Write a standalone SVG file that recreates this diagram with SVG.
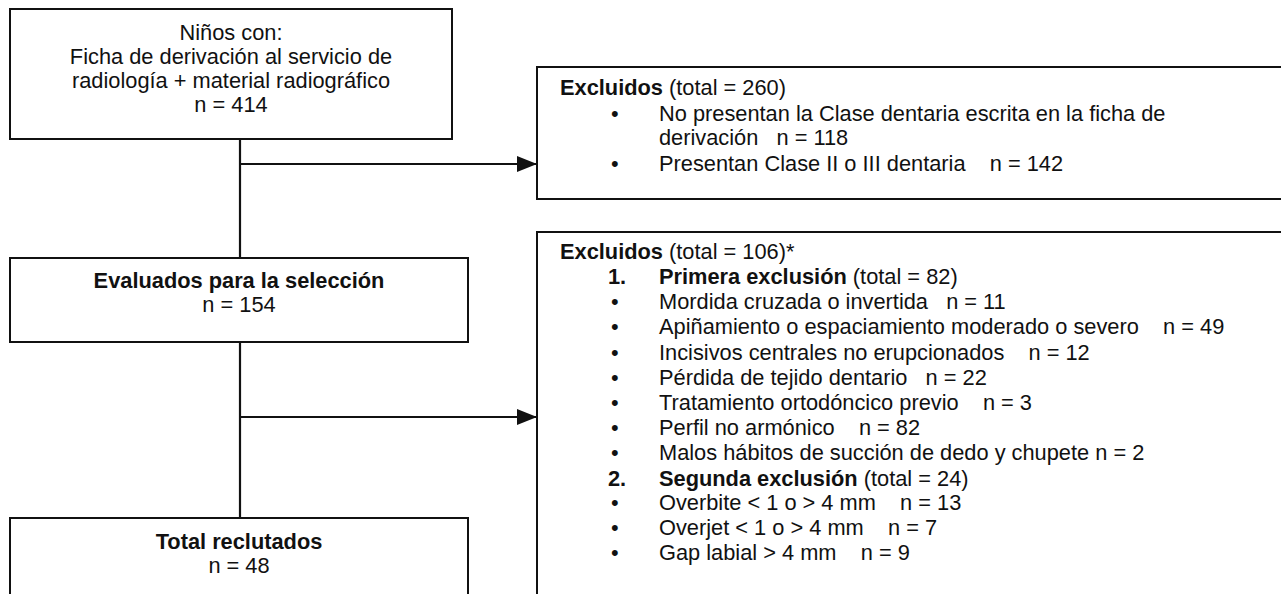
<svg xmlns="http://www.w3.org/2000/svg" width="1281" height="594" viewBox="0 0 1281 594">
<style>
.box{fill:#fff;stroke:#111;stroke-width:2}
.t{font-family:"Liberation Sans",Arial,sans-serif;font-size:21.8px;fill:#111}
.c{text-anchor:middle}
.b{font-weight:bold}
.ln{stroke:#111;stroke-width:2.2;fill:none}
</style>
<defs>
<marker id="arr" markerWidth="20" markerHeight="16" refX="20" refY="8" orient="auto" markerUnits="userSpaceOnUse">
<path d="M0,0 L20,8 L0,16 Z" fill="#111"/>
</marker>
</defs>
<rect width="1281" height="594" fill="#fff"/>
<g id="connectors">
<line class="ln" x1="240" y1="139" x2="240" y2="258"/>
<line class="ln" x1="240" y1="164" x2="537" y2="164" marker-end="url(#arr)"/>
<line class="ln" x1="240" y1="342" x2="240" y2="518"/>
<line class="ln" x1="240" y1="417" x2="537" y2="417" marker-end="url(#arr)"/>
</g>
<g id="n1">
<rect class="box" x="10" y="9" width="442" height="130"/>
<text class="t c" x="231" y="40">Niños con:</text>
<text class="t c" x="231" y="64">Ficha de derivación al servicio de</text>
<text class="t c" x="231" y="88">radiología + material radiográfico</text>
<text class="t c" x="231" y="112">n = 414</text>
</g>
<g id="n2">
<rect class="box" x="10" y="258" width="458" height="84"/>
<text class="t c b" x="239" y="288">Evaluados para la selección</text>
<text class="t c" x="239" y="312">n = 154</text>
</g>
<g id="n3">
<rect class="box" x="10" y="518" width="458" height="90"/>
<text class="t c b" x="239" y="549">Total reclutados</text>
<text class="t c" x="239" y="573">n = 48</text>
</g>
<g id="e1">
<rect class="box" x="537" y="67" width="760" height="132"/>
<text class="t" x="560" y="95"><tspan class="b">Excluidos</tspan> (total = 260)</text>
<text class="t" x="611" y="121">•</text>
<text class="t" x="659" y="121">No presentan la Clase dentaria escrita en la ficha de</text>
<text class="t" x="659" y="145" xml:space="preserve">derivación   n = 118</text>
<text class="t" x="611" y="171">•</text>
<text class="t" x="659" y="171" xml:space="preserve">Presentan Clase II o III dentaria    n = 142</text>
</g>
<g id="e2">
<rect class="box" x="537" y="232" width="760" height="380"/>
<text class="t" x="560" y="259"><tspan class="b">Excluidos</tspan> (total = 106)*</text>
<text class="t b" x="608" y="284">1.</text>
<text class="t" x="659" y="284"><tspan class="b">Primera exclusión</tspan> (total = 82)</text>
<text class="t" x="611" y="309">•</text>
<text class="t" x="659" y="309" xml:space="preserve">Mordida cruzada o invertida   n = 11</text>
<text class="t" x="611" y="334">•</text>
<text class="t" x="659" y="334" xml:space="preserve">Apiñamiento o espaciamiento moderado o severo    n = 49</text>
<text class="t" x="611" y="360">•</text>
<text class="t" x="659" y="360" xml:space="preserve">Incisivos centrales no erupcionados    n = 12</text>
<text class="t" x="611" y="385">•</text>
<text class="t" x="659" y="385" xml:space="preserve">Pérdida de tejido dentario   n = 22</text>
<text class="t" x="611" y="410">•</text>
<text class="t" x="659" y="410" xml:space="preserve">Tratamiento ortodóncico previo    n = 3</text>
<text class="t" x="611" y="435">•</text>
<text class="t" x="659" y="435" xml:space="preserve">Perfil no armónico    n = 82</text>
<text class="t" x="611" y="460">•</text>
<text class="t" x="659" y="460">Malos hábitos de succión de dedo y chupete n = 2</text>
<text class="t b" x="608" y="486">2.</text>
<text class="t" x="659" y="486"><tspan class="b">Segunda exclusión</tspan> (total = 24)</text>
<text class="t" x="611" y="510">•</text>
<text class="t" x="659" y="510" xml:space="preserve">Overbite &lt; 1 o &gt; 4 mm    n = 13</text>
<text class="t" x="611" y="535">•</text>
<text class="t" x="659" y="535" xml:space="preserve">Overjet &lt; 1 o &gt; 4 mm    n = 7</text>
<text class="t" x="611" y="560">•</text>
<text class="t" x="659" y="560" xml:space="preserve">Gap labial &gt; 4 mm    n = 9</text>
</g>
</svg>
